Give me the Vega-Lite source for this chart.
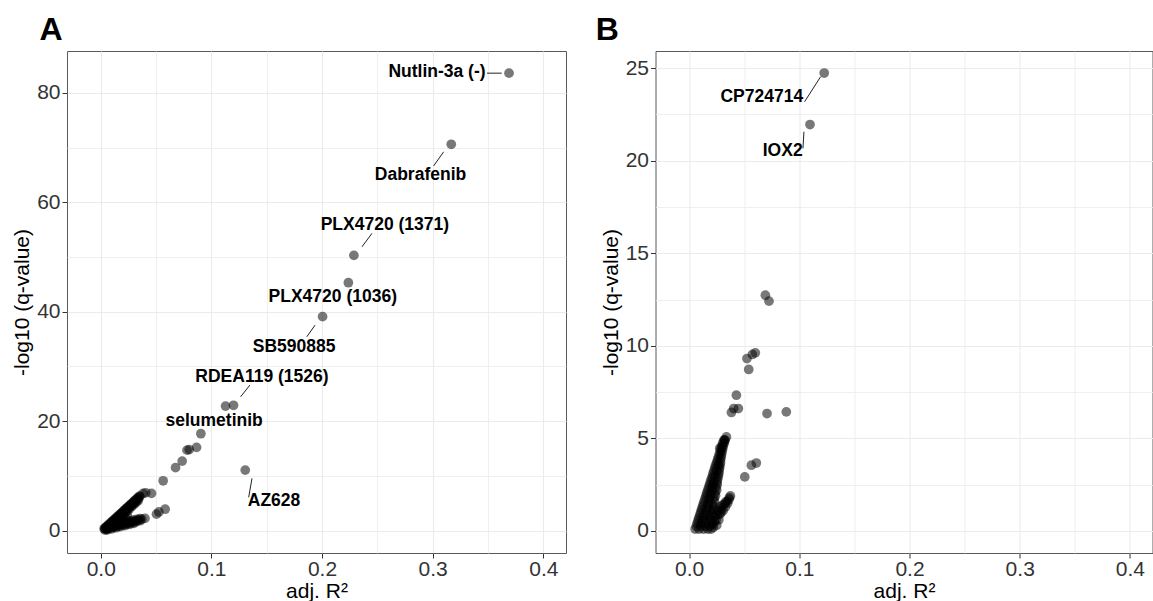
{
  "$schema": "https://vega.github.io/schema/vega-lite/v6.json",
  "padding": {"left": 11, "top": 13, "right": 0, "bottom": 0},
  "spacing": 27.5,
  "config": {
    "font": "Liberation Sans",
    "view": {"stroke": "#5a5a5a", "strokeWidth": 1},
    "axis": {"domain": false, "grid": true, "gridColor": "#EBEBEB", "tickColor": "#333333", "tickSize": 5, "tickWidth": 1, "labelFont": "Liberation Sans", "labelFontSize": 21, "labelColor": "#333333", "labelPadding": 2, "titleFont": "Liberation Sans", "titleFontSize": 21, "titleFontWeight": "normal", "titleColor": "black", "labelOverlap": false, "labelFlush": false, "titlePadding": 4},
    "axisX": {"labelPadding": 0, "titlePadding": 1}
  },
  "datasets": {
    "pointsA": [
      {"x":0.369,"y":83.6},{"x":0.3168,"y":70.6},{"x":0.2288,"y":50.3},{"x":0.2238,"y":45.3},{"x":0.2005,"y":39.1},{"x":0.120,"y":22.9},{"x":0.1128,"y":22.75},{"x":0.1306,"y":11.05},
      {"x":0.0905,"y":17.7},{"x":0.0866,"y":15.2},{"x":0.078,"y":14.7},{"x":0.080,"y":14.8},{"x":0.0736,"y":12.7},{"x":0.0676,"y":11.5},{"x":0.0564,"y":9.1},{"x":0.0504,"y":3.0},{"x":0.0525,"y":3.4},{"x":0.0582,"y":3.9},{"x":0.0407,"y":6.9},{"x":0.0459,"y":6.8},{"x":0.0383,"y":6.8},{"x":0.0353,"y":6.2},
      {"x":0.003,"y":0.33},{"x":0.005,"y":0.70},{"x":0.007,"y":1.07},{"x":0.009,"y":1.44},{"x":0.011,"y":1.81},{"x":0.013,"y":2.19},{"x":0.015,"y":2.56},{"x":0.017,"y":2.93},{"x":0.019,"y":3.30},{"x":0.021,"y":3.67},{"x":0.023,"y":4.05},{"x":0.025,"y":4.42},{"x":0.027,"y":4.79},{"x":0.029,"y":5.16},{"x":0.031,"y":5.53},{"x":0.033,"y":5.91},{"x":0.035,"y":6.28},
      {"x":0.004,"y":0.1},{"x":0.006,"y":0.28},{"x":0.008,"y":0.66},{"x":0.010,"y":1.03},{"x":0.012,"y":1.40},{"x":0.014,"y":1.77},{"x":0.016,"y":2.14},{"x":0.018,"y":2.52},{"x":0.020,"y":2.89},{"x":0.022,"y":3.26},{"x":0.024,"y":3.63},{"x":0.026,"y":4.00},{"x":0.028,"y":4.38},{"x":0.030,"y":4.75},{"x":0.032,"y":5.12},{"x":0.034,"y":5.49},
      {"x":0.004,"y":0.42},{"x":0.007,"y":0.57},{"x":0.010,"y":0.72},{"x":0.013,"y":0.87},{"x":0.016,"y":1.02},{"x":0.019,"y":1.17},{"x":0.022,"y":1.32},{"x":0.025,"y":1.47},{"x":0.028,"y":1.62},{"x":0.031,"y":1.77},{"x":0.034,"y":1.92},{"x":0.037,"y":2.07},{"x":0.040,"y":2.22},
      {"x":0.006,"y":0.12},{"x":0.010,"y":0.32},{"x":0.014,"y":0.52},{"x":0.018,"y":0.72},{"x":0.022,"y":0.92},{"x":0.026,"y":1.12},{"x":0.030,"y":1.32},
      {"x":0.008,"y":0.94},{"x":0.012,"y":1.41},{"x":0.016,"y":1.88},{"x":0.020,"y":2.35},{"x":0.024,"y":2.8},{"x":0.0045,"y":0.35},
      {"x":0.004,"y":0.45},{"x":0.006,"y":0.82},{"x":0.008,"y":1.2},{"x":0.010,"y":1.57},{"x":0.012,"y":1.94},{"x":0.014,"y":2.3},{"x":0.016,"y":2.68},{"x":0.018,"y":3.05},{"x":0.020,"y":3.42},{"x":0.022,"y":3.8},{"x":0.024,"y":4.17},{"x":0.026,"y":4.55},{"x":0.028,"y":4.9},{"x":0.030,"y":5.3},{"x":0.032,"y":5.65},{"x":0.034,"y":6.0},
      {"x":0.005,"y":0.4},{"x":0.007,"y":0.77},{"x":0.009,"y":1.14},{"x":0.011,"y":1.51},{"x":0.013,"y":1.89},{"x":0.015,"y":2.26},{"x":0.017,"y":2.63},{"x":0.019,"y":3.0},{"x":0.021,"y":3.37},{"x":0.023,"y":3.75},{"x":0.025,"y":4.12},{"x":0.027,"y":4.49},{"x":0.029,"y":4.86},{"x":0.031,"y":5.23},{"x":0.033,"y":5.6},
      {"x":0.0055,"y":0.7},{"x":0.0085,"y":0.85},{"x":0.0115,"y":1.0},{"x":0.0145,"y":1.15},{"x":0.0175,"y":1.3},{"x":0.0205,"y":1.45},{"x":0.0235,"y":1.6},{"x":0.0265,"y":1.75},{"x":0.0295,"y":1.9},{"x":0.0325,"y":2.05},{"x":0.0355,"y":2.2},
      {"x":0.0085,"y":0.45},{"x":0.0115,"y":0.6},{"x":0.0145,"y":0.75},{"x":0.0175,"y":0.9},{"x":0.0205,"y":1.05},{"x":0.0235,"y":1.2},{"x":0.0265,"y":1.35},{"x":0.0295,"y":1.5},{"x":0.0325,"y":1.65},{"x":0.0355,"y":1.8},
      {"x":0.010,"y":1.2},{"x":0.014,"y":1.65},{"x":0.018,"y":2.1},{"x":0.022,"y":2.4}
    ],
    "labelsA": [
      {"label":"Nutlin-3a (-)","x":0.3039,"y":83.78},
      {"label":"Dabrafenib","x":0.2890,"y":64.96},
      {"label":"PLX4720 (1371)","x":0.2568,"y":55.82},
      {"label":"PLX4720 (1036)","x":0.2097,"y":42.67},
      {"label":"SB590885","x":0.1748,"y":33.62},
      {"label":"RDEA119 (1526)","x":0.1457,"y":28.14},
      {"label":"selumetinib","x":0.1025,"y":20.01},
      {"label":"AZ628","x":0.1566,"y":5.39}
    ],
    "segmentsA": [
      {"label":"Nutlin-3a (-)","x":0.3491,"y":83.6,"ex":0.3624,"ey":83.6},
      {"label":"Dabrafenib","x":0.3009,"y":66.66,"ex":0.3099,"ey":69.22},
      {"label":"PLX4720 (1371)","x":0.2361,"y":51.86,"ex":0.2451,"ey":54.31},
      {"label":"SB590885","x":0.1862,"y":35.41,"ex":0.1937,"ey":37.55},
      {"label":"RDEA119 (1526)","x":0.1264,"y":24.45,"ex":0.1348,"ey":26.59},
      {"label":"AZ628","x":0.1367,"y":9.54,"ex":0.1337,"ey":6.07}
    ],
    "pointsB": [
      {"x":0.1226,"y":24.73},{"x":0.1097,"y":21.95},{"x":0.0692,"y":12.73},{"x":0.0725,"y":12.41},{"x":0.0525,"y":9.31},{"x":0.0574,"y":9.53},{"x":0.0601,"y":9.62},{"x":0.0541,"y":8.72},{"x":0.0429,"y":7.33},{"x":0.0384,"y":6.40},{"x":0.0405,"y":6.61},{"x":0.0447,"y":6.61},{"x":0.0707,"y":6.34},{"x":0.0882,"y":6.43},{"x":0.0565,"y":3.55},{"x":0.061,"y":3.67},{"x":0.0505,"y":2.92},
      {"x":0.0339,"y":5.08},{"x":0.0323,"y":4.9},{"x":0.0278,"y":4.47},
      {"x":0.0375,"y":1.89},{"x":0.0362,"y":1.70},{"x":0.0332,"y":1.57},{"x":0.0302,"y":1.39},{"x":0.0278,"y":1.30},{"x":0.026,"y":1.1},{"x":0.028,"y":0.9},{"x":0.031,"y":1.1},{"x":0.024,"y":0.8},{"x":0.027,"y":0.6},{"x":0.023,"y":0.5},{"x":0.025,"y":0.3},{"x":0.022,"y":0.2},{"x":0.033,"y":1.3},{"x":0.035,"y":1.5},
      {"x":0.0295,"y":1.2},{"x":0.032,"y":1.45},{"x":0.0345,"y":1.6},{"x":0.0365,"y":1.8},{"x":0.026,"y":0.9},{"x":0.0245,"y":0.6},{"x":0.0215,"y":0.35},{"x":0.029,"y":1.0},
      {"x":0.0055,"y":0.1},{"x":0.009,"y":0.1},{"x":0.013,"y":0.1},{"x":0.017,"y":0.1},{"x":0.020,"y":0.1},
      {"x":0.0072,"y":0.4},{"x":0.011,"y":0.4},{"x":0.015,"y":0.4},{"x":0.0205,"y":0.4},
      {"x":0.0088,"y":0.7},{"x":0.0135,"y":0.7},{"x":0.0185,"y":0.7},
      {"x":0.0104,"y":1.0},{"x":0.0155,"y":1.0},{"x":0.021,"y":1.0},
      {"x":0.012,"y":1.3},{"x":0.017,"y":1.3},{"x":0.0225,"y":1.3},
      {"x":0.0136,"y":1.6},{"x":0.0185,"y":1.6},{"x":0.023,"y":1.6},
      {"x":0.0153,"y":1.9},{"x":0.0197,"y":1.9},{"x":0.024,"y":1.9},
      {"x":0.0169,"y":2.2},{"x":0.021,"y":2.2},{"x":0.025,"y":2.2},
      {"x":0.0185,"y":2.5},{"x":0.022,"y":2.5},{"x":0.0255,"y":2.5},
      {"x":0.0201,"y":2.8},{"x":0.026,"y":2.8},
      {"x":0.0217,"y":3.1},{"x":0.027,"y":3.1},
      {"x":0.0234,"y":3.4},{"x":0.0277,"y":3.4},
      {"x":0.025,"y":3.7},{"x":0.0285,"y":3.7},
      {"x":0.0266,"y":4.0},{"x":0.0292,"y":4.0},
      {"x":0.0282,"y":4.3},{"x":0.030,"y":4.3},
      {"x":0.0298,"y":4.6},{"x":0.031,"y":4.6},
      {"x":0.0315,"y":4.9},{"x":0.0325,"y":4.9},
      {"x":0.0065,"y":0.25},{"x":0.0105,"y":0.25},{"x":0.0145,"y":0.25},{"x":0.0185,"y":0.25},
      {"x":0.008,"y":0.55},{"x":0.012,"y":0.55},{"x":0.016,"y":0.55},{"x":0.0195,"y":0.55},
      {"x":0.0096,"y":0.85},{"x":0.0135,"y":0.85},{"x":0.0175,"y":0.85},{"x":0.021,"y":0.85},
      {"x":0.0112,"y":1.15},{"x":0.015,"y":1.15},{"x":0.019,"y":1.15},{"x":0.022,"y":1.15},
      {"x":0.0128,"y":1.45},{"x":0.017,"y":1.45},{"x":0.021,"y":1.45},
      {"x":0.0145,"y":1.75},{"x":0.018,"y":1.75},{"x":0.0225,"y":1.75},
      {"x":0.016,"y":2.05},{"x":0.0195,"y":2.05},{"x":0.0235,"y":2.05},
      {"x":0.0177,"y":2.35},{"x":0.021,"y":2.35},{"x":0.0245,"y":2.35},
      {"x":0.0193,"y":2.65},{"x":0.0225,"y":2.65},{"x":0.0255,"y":2.65},
      {"x":0.021,"y":2.95},{"x":0.0235,"y":2.95},{"x":0.0265,"y":2.95},
      {"x":0.0225,"y":3.25},{"x":0.025,"y":3.25},{"x":0.0272,"y":3.25},
      {"x":0.024,"y":3.55},{"x":0.0265,"y":3.55},{"x":0.028,"y":3.55},
      {"x":0.0258,"y":3.85},{"x":0.0285,"y":3.85},
      {"x":0.0274,"y":4.15},{"x":0.0295,"y":4.15},
      {"x":0.029,"y":4.45},{"x":0.0305,"y":4.45},
      {"x":0.0306,"y":4.75},{"x":0.032,"y":4.75}
    ],
    "labelsB": [
      {"label":"CP724714","x":0.0660,"y":23.46},
      {"label":"IOX2","x":0.0849,"y":20.51}
    ],
    "segmentsB": [
      {"label":"CP724714","x":0.1048,"y":23.18,"ex":0.1193,"ey":24.53},
      {"label":"IOX2","x":0.1033,"y":20.66,"ex":0.1042,"ey":21.56}
    ]
  },
  "hconcat": [
    {
      "width": 499,
      "height": 502,
      "title": {"text": "A", "anchor": "start", "frame": "group", "fontSize": 32, "fontWeight": "bold", "font": "Liberation Sans", "color": "black", "dx": -27.5, "offset": -21, "baseline": "alphabetic"},
      "encoding": {
        "x": {"field": "x", "type": "quantitative", "scale": {"domain": [-0.0305, 0.4205], "nice": false, "zero": false},
          "axis": {"title": "adj. R²", "values": [0, 0.05, 0.1, 0.15, 0.2, 0.25, 0.3, 0.35, 0.4],
            "labelExpr": "(round(datum.value*100) % 10 == 0) ? format(datum.value, '.1f') : ''",
            "tickOpacity": {"condition": {"test": "round(datum.value*100) % 10 != 0", "value": 0}, "value": 1},
            "gridWidth": {"condition": {"test": "round(datum.value*100) % 10 != 0", "value": 0.8}, "value": 1.1}}},
        "y": {"field": "y", "type": "quantitative", "scale": {"domain": [-4.1, 87.65], "nice": false, "zero": false},
          "axis": {"title": "-log10 (q-value)", "values": [0, 10, 20, 30, 40, 50, 60, 70, 80],
            "labelExpr": "(datum.value % 20 == 0) ? format(datum.value, 'd') : ''",
            "tickOpacity": {"condition": {"test": "datum.value % 20 != 0", "value": 0}, "value": 1},
            "gridWidth": {"condition": {"test": "datum.value % 20 != 0", "value": 0.8}, "value": 1.1}}}
      },
      "layer": [
        {
          "data": {"name": "pointsA"},
          "mark": {"type": "circle", "size": 95, "color": "black", "opacity": 0.53}
        },
        {
          "data": {"name": "segmentsA"},
          "mark": {"type": "rule", "color": "#222222", "strokeWidth": 1},
          "encoding": {"x2": {"field": "ex"}, "y2": {"field": "ey"}}
        },
        {
          "data": {"name": "labelsA"},
          "mark": {"type": "text", "font": "Liberation Sans", "fontWeight": "bold", "fontSize": 17.5, "color": "black", "align": "center", "baseline": "middle"},
          "encoding": {"text": {"field": "label"}}
        }
      ]
    },
    {
      "width": 497,
      "height": 502,
      "title": {"text": "B", "anchor": "start", "frame": "group", "fontSize": 32, "fontWeight": "bold", "font": "Liberation Sans", "color": "black", "dx": -59.8, "offset": -21, "baseline": "alphabetic"},
      "encoding": {
        "x": {"field": "x", "type": "quantitative", "scale": {"domain": [-0.0305, 0.4205], "nice": false, "zero": false},
          "axis": {"title": "adj. R²", "values": [0, 0.05, 0.1, 0.15, 0.2, 0.25, 0.3, 0.35, 0.4],
            "labelExpr": "(round(datum.value*100) % 10 == 0) ? format(datum.value, '.1f') : ''",
            "tickOpacity": {"condition": {"test": "round(datum.value*100) % 10 != 0", "value": 0}, "value": 1},
            "gridWidth": {"condition": {"test": "round(datum.value*100) % 10 != 0", "value": 0.8}, "value": 1.1}}},
        "y": {"field": "y", "type": "quantitative", "scale": {"domain": [-1.19, 25.92], "nice": false, "zero": false},
          "axis": {"title": "-log10 (q-value)", "values": [0, 2.5, 5, 7.5, 10, 12.5, 15, 17.5, 20, 22.5, 25],
            "labelExpr": "(datum.value % 5 == 0) ? format(datum.value, 'd') : ''",
            "tickOpacity": {"condition": {"test": "datum.value % 5 != 0", "value": 0}, "value": 1},
            "gridWidth": {"condition": {"test": "datum.value % 5 != 0", "value": 0.8}, "value": 1.1}}}
      },
      "layer": [
        {
          "data": {"name": "pointsB"},
          "mark": {"type": "circle", "size": 95, "color": "black", "opacity": 0.53}
        },
        {
          "data": {"name": "segmentsB"},
          "mark": {"type": "rule", "color": "#222222", "strokeWidth": 1},
          "encoding": {"x2": {"field": "ex"}, "y2": {"field": "ey"}}
        },
        {
          "data": {"name": "labelsB"},
          "mark": {"type": "text", "font": "Liberation Sans", "fontWeight": "bold", "fontSize": 17.5, "color": "black", "align": "center", "baseline": "middle"},
          "encoding": {"text": {"field": "label"}}
        }
      ]
    }
  ]
}
